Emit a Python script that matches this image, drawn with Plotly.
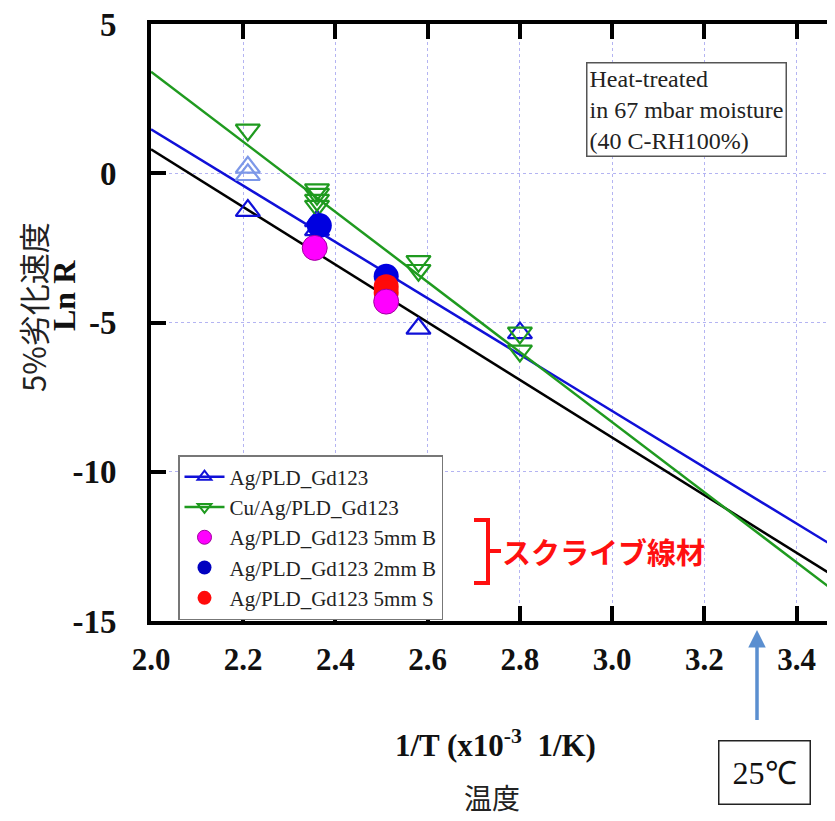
import plotly.graph_objects as go

# ---------------- data ----------------
x_ticks = [2.0, 2.2, 2.4, 2.6, 2.8, 3.0, 3.2, 3.4]
x_tick_labels = ["2.0", "2.2", "2.4", "2.6", "2.8", "3.0", "3.2", "3.4"]
y_ticks = [-15, -10, -5, 0, 5]
y_tick_labels = ["-15", "-10", "-5", "0", "5"]

# Ag/PLD_Gd123 (open triangles up)
ag_x = [2.21, 2.36, 2.36, 2.58, 2.80]
ag_y = [-1.25, -1.6, -1.9, -5.2, -5.35]
ag_faded_x = [2.21, 2.21]
ag_faded_y = [0.2, -0.05]

# Cu/Ag/PLD_Gd123 (open triangles down)
cu_x = [2.21, 2.36, 2.36, 2.36, 2.36, 2.58, 2.58, 2.80, 2.80]
cu_y = [1.45, -0.55, -0.7, -0.9, -1.1, -2.95, -3.25, -5.35, -5.95]

# scribed wires (filled circles)
b5_x = [2.355, 2.51]          # Ag/PLD_Gd123 5mm B (magenta)
b5_y = [-2.5, -4.3]
b2_x = [2.365, 2.51]          # Ag/PLD_Gd123 2mm B (blue)
b2_y = [-1.75, -3.45]
s5_x = [2.51, 2.51]           # Ag/PLD_Gd123 5mm S (red)
s5_y = [-3.8, -4.0]

# fitted lines (end points)
fit_x = [2.0, 3.5]
fit_blue_y = [1.47, -12.68]
fit_green_y = [3.4, -14.21]
fit_black_y = [0.8, -13.68]

legend_names = ["Ag/PLD_Gd123", "Cu/Ag/PLD_Gd123",
                "Ag/PLD_Gd123 5mm B", "Ag/PLD_Gd123 2mm B", "Ag/PLD_Gd123 5mm S"]

# ---------------- style ----------------
BLUE = "#1010d8"
FADED = "#7d98e8"
GREEN = "#1f9a1f"
MAG = "#ff00ff"
RED = "#ff0a0a"
SERIF = "Liberation Serif"
CJK = "Noto Sans CJK JP"

OFF = 8                       # page body margin
W, H = 835 - OFF, 821 - OFF
L, T, R, B = 143, 16, 0, 200
PW, PH = W - L - R, H - T - B


def px(xp):
    """page pixel x -> paper x"""
    return (xp - OFF - L) / PW


def py(yp):
    """page pixel y -> paper y"""
    return (H - B - (yp - OFF)) / PH


fig = go.Figure()

# fit lines
fig.add_trace(go.Scatter(x=fit_x, y=fit_black_y, mode="lines",
                         line=dict(color="black", width=2.5), showlegend=False))
fig.add_trace(go.Scatter(x=fit_x, y=fit_blue_y, mode="lines",
                         line=dict(color=BLUE, width=2.5), showlegend=False))
fig.add_trace(go.Scatter(x=fit_x, y=fit_green_y, mode="lines",
                         line=dict(color=GREEN, width=2.5), showlegend=False))

# data markers
fig.add_trace(go.Scatter(x=ag_faded_x, y=ag_faded_y, mode="markers", showlegend=False,
                         marker=dict(symbol="triangle-up-open", size=21, color=FADED,
                                     line=dict(width=2.2))))
fig.add_trace(go.Scatter(x=ag_x, y=ag_y, mode="markers", showlegend=False,
                         marker=dict(symbol="triangle-up-open", size=21, color=BLUE,
                                     line=dict(width=2.2))))
fig.add_trace(go.Scatter(x=cu_x, y=cu_y, mode="markers", showlegend=False,
                         marker=dict(symbol="triangle-down-open", size=21, color=GREEN,
                                     line=dict(width=2.2))))
fig.add_trace(go.Scatter(x=b2_x, y=b2_y, mode="markers", showlegend=False,
                         marker=dict(symbol="circle", size=25, color="#0000e0",
                                     line=dict(width=0))))
fig.add_trace(go.Scatter(x=s5_x, y=s5_y, mode="markers", showlegend=False,
                         marker=dict(symbol="circle", size=25, color=RED,
                                     line=dict(width=0))))
fig.add_trace(go.Scatter(x=b5_x, y=b5_y, mode="markers", showlegend=False,
                         marker=dict(symbol="circle", size=25, color=MAG,
                                     line=dict(width=1, color="#a000a0"))))

# legend-only entries
fig.add_trace(go.Scatter(x=[None], y=[None], mode="lines+markers", name=legend_names[0],
                         line=dict(color=BLUE, width=2.5),
                         marker=dict(symbol="triangle-up-open", size=12, color=BLUE,
                                     line=dict(width=2))))
fig.add_trace(go.Scatter(x=[None], y=[None], mode="lines+markers", name=legend_names[1],
                         line=dict(color=GREEN, width=2.5),
                         marker=dict(symbol="triangle-down-open", size=12, color=GREEN,
                                     line=dict(width=2))))
fig.add_trace(go.Scatter(x=[None], y=[None], mode="markers", name=legend_names[2],
                         marker=dict(symbol="circle", size=14, color=MAG,
                                     line=dict(width=1, color="#a000a0"))))
fig.add_trace(go.Scatter(x=[None], y=[None], mode="markers", name=legend_names[3],
                         marker=dict(symbol="circle", size=14, color="#0000c0")))
fig.add_trace(go.Scatter(x=[None], y=[None], mode="markers", name=legend_names[4],
                         marker=dict(symbol="circle", size=14, color=RED)))

# invisible trace for top axis
fig.add_trace(go.Scatter(x=[x_ticks[0]], y=[y_ticks[0]], xaxis="x2", mode="markers",
                         marker=dict(opacity=0), showlegend=False, hoverinfo="skip"))

grid = dict(showgrid=True, gridcolor="#b4b4f2", griddash="dot", gridwidth=1)
x_right = 2.0 + (835 - 149) / 462.5

fig.update_layout(
    width=W, height=H,
    margin=dict(l=L, r=R, t=T, b=B, autoexpand=False),
    paper_bgcolor="white", plot_bgcolor="white",
    showlegend=True,
    xaxis=dict(range=[2.0, x_right], tickvals=x_ticks, ticktext=x_tick_labels,
               ticks="inside", ticklen=15, tickwidth=4, tickcolor="black",
               showline=True, linecolor="black", linewidth=4, zeroline=False,
               automargin=False, ticklabeloverflow="allow",
               tickfont=dict(family=SERIF, size=31, color="#111", weight="bold"),
               ticklabelstandoff=8, **grid),
    xaxis2=dict(overlaying="x", side="top", matches="x", tickvals=x_ticks,
                showticklabels=False, ticks="inside", ticklen=15, tickwidth=4,
                tickcolor="black", showline=True, linecolor="black", linewidth=4,
                showgrid=False, zeroline=False, automargin=False),
    yaxis=dict(range=[-15, 5], tickvals=y_ticks, ticktext=y_tick_labels,
               ticks="inside", ticklen=15, tickwidth=4, tickcolor="black",
               showline=True, linecolor="black", linewidth=4, zeroline=False,
               automargin=False, ticklabeloverflow="allow",
               tickfont=dict(family=SERIF, size=33, color="#111", weight="bold"),
               ticklabelstandoff=24, **grid),
    legend=dict(x=px(178), y=py(455), xanchor="left", yanchor="top",
                bgcolor="white", bordercolor="#777", borderwidth=1.5,
                font=dict(family=SERIF, size=21, color="#222"),
                itemwidth=40, tracegroupgap=0),
)

ann = []
ann.append(dict(x=px(32), y=py(307), xref="paper", yref="paper", text="5%劣化速度",
                textangle=-90, showarrow=False, xanchor="center", yanchor="middle",
                font=dict(family=CJK, size=31, color="#222")))
ann.append(dict(x=px(64), y=py(296), xref="paper", yref="paper", text="<b>Ln R</b>",
                textangle=-90, showarrow=False, xanchor="center", yanchor="middle",
                font=dict(family=SERIF, size=32, color="#111")))
ann.append(dict(x=px(495), y=py(744), xref="paper", yref="paper",
                xanchor="center", yanchor="middle",
                text="<b>1/T (x10<sup>-3</sup>  1/K)</b>", showarrow=False,
                font=dict(family=SERIF, size=31, color="#111")))
ann.append(dict(x=px(492), y=py(797), xref="paper", yref="paper", text="温度",
                xanchor="center", yanchor="middle",
                showarrow=False, font=dict(family=CJK, size=28, color="#222")))
# heat-treated note
ann.append(dict(x=px(586), y=py(62), xref="paper", yref="paper", xanchor="left",
                yanchor="top", align="left",
                text="Heat-treated<br>in 67 mbar moisture<br>(40 C-RH100%)",
                showarrow=False, bgcolor="white", bordercolor="#555", borderwidth=1.5,
                borderpad=2, font=dict(family=SERIF, size=24, color="#222")))
# 25C arrow and box
ann.append(dict(x=px(757), y=py(630), xref="paper", yref="paper", text=" ",
                showarrow=True, ax=0, ay=100, arrowcolor="#5b8fd0", arrowwidth=3.5,
                arrowhead=2, arrowsize=1))
ann.append(dict(x=px(764), y=py(772), xref="paper", yref="paper", text="25℃",
                xanchor="center", yanchor="middle",
                showarrow=False, bgcolor="white", bordercolor="#222", borderwidth=1.5,
                borderpad=13, font=dict(family=SERIF, size=32, color="#111")))
# scribe annotation
ann.append(dict(x=px(500), y=py(551), xref="paper", yref="paper", xanchor="left",
                yanchor="middle",
                text="<b>スクライブ線材</b>", showarrow=False,
                font=dict(family=CJK, size=29, color="#ff1010")))
fig.update_layout(annotations=ann)

# red bracket
bx0, bx1, bx2 = px(474), px(488), px(501)
by0, by1, bym = py(520), py(583), py(551)
fig.add_shape(type="path", xref="paper", yref="paper",
              path=f"M {bx0} {by0} L {bx1} {by0} L {bx1} {by1} L {bx0} {by1} "
                   f"M {bx1} {bym} L {bx2} {bym}",
              line=dict(color="#ff1010", width=4))

fig.write_html("out.html")
